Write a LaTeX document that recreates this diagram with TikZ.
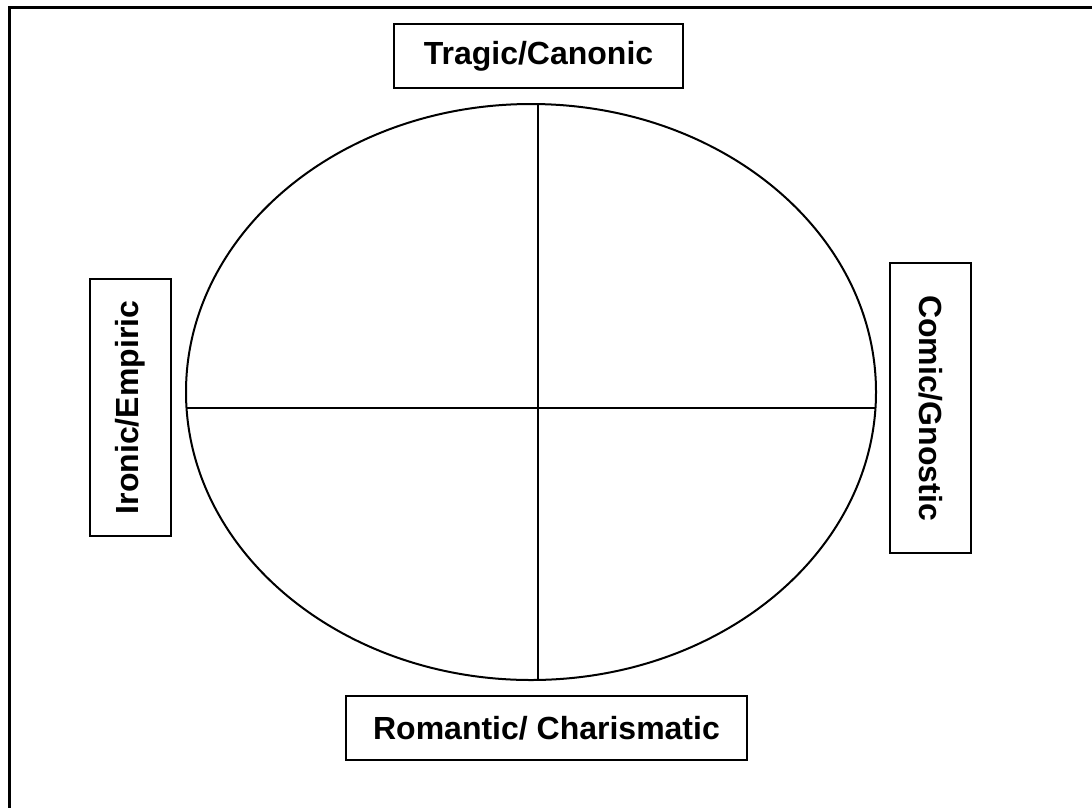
\documentclass[tikz,border=0pt]{standalone}
\usepackage{fontspec}
\setmainfont{Liberation Sans}
\usetikzlibrary{calc,shapes.geometric}
\definecolor{inkBlack}{RGB}{0,0,0}

\begin{document}
\begin{tikzpicture}[x=1pt,y=-1pt,
  modebox/.style={draw=inkBlack,line width=2pt,inner sep=0pt,
    font=\bfseries\fontsize{32}{36}\selectfont},
  wheelline/.style={draw=inkBlack,line width=2pt}]
\useasboundingbox (0,0) rectangle (1092,807);
% page frame, only top and left edges show
\draw[inkBlack,line width=3pt] (9,7) rectangle (1120,840);
% the wheel
\node[ellipse,wheelline,inner sep=0pt,minimum width=690,minimum height=576] (wheel) at (531,392) {};
\coordinate (vtop) at (538,104);
\coordinate (vbot) at (538,680);
\coordinate (hleft) at (186.5,408);
\coordinate (hright) at (875.5,408);
\draw[wheelline] (vtop) -- (vbot);
\draw[wheelline] (hleft) -- (hright);
% the four modes
\node[modebox,minimum width=289,minimum height=64] (tragic) at (538.5,56) {Tragic/Canonic};
\node[modebox,minimum width=401,minimum height=64] (romantic) at (546.5,728) {Romantic/ Charismatic};
\node[modebox,rotate=90,minimum width=257,minimum height=81] (ironic) at (130.5,407.5) {Ironic/Empiric};
\node[modebox,rotate=-90,minimum width=290,minimum height=81] (comic) at (930.5,408) {Comic/Gnostic};
\end{tikzpicture}
\end{document}
